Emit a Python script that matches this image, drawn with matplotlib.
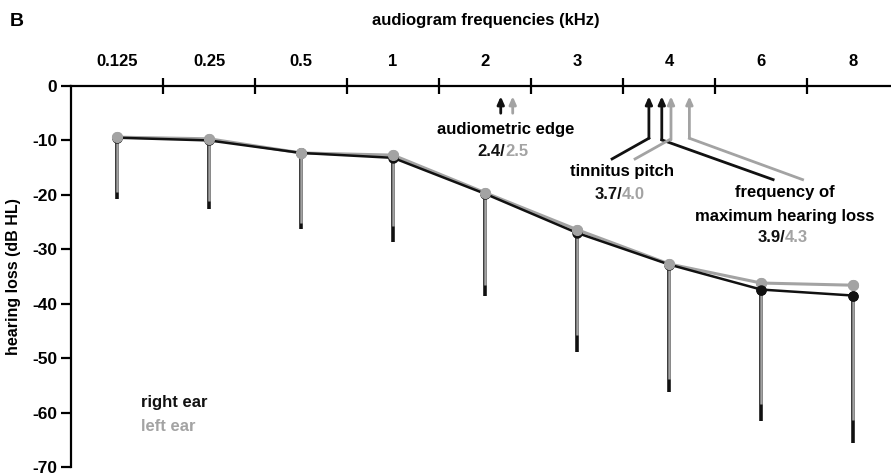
import numpy as np
import matplotlib.pyplot as plt

plt.rcParams['font.family'] = ['Liberation Sans', 'DejaVu Sans']
plt.rcParams['font.weight'] = 'bold'

freqs = ['0.125', '0.25', '0.5', '1', '2', '3', '4', '6', '8']

# mean hearing loss (dB HL)
right_ear = [-9.5, -10.0, -12.3, -13.2, -19.8, -27.0, -32.8, -37.4, -38.5]
left_ear = [-9.4, -9.7, -12.3, -12.7, -19.6, -26.4, -32.7, -36.2, -36.6]
# lower end of the error bars
right_low = [-20.7, -22.6, -26.2, -28.6, -38.5, -48.9, -56.2, -61.5, -65.6]
left_low = [-19.4, -21.2, -25.1, -25.8, -36.5, -45.7, -53.9, -58.4, -61.3]

black = '#111111'
gray = '#a3a3a3'

x = np.arange(len(freqs))
r = np.array(right_ear)
l = np.array(left_ear)
r_err = r - np.array(right_low)
l_err = l - np.array(left_low)

fig = plt.figure(figsize=(8.91, 4.75), dpi=100)
ax = fig.add_axes([71/891, 1 - 467/475, (890 - 71)/891, (467 - 86)/475])

# error bars (downward only); left ear on top of right ear
ax.errorbar(x, r, yerr=[r_err, np.zeros_like(r_err)], fmt='none', ecolor=black,
            elinewidth=2.6, capsize=0, zorder=2)
ax.errorbar(x, l, yerr=[l_err, np.zeros_like(l_err)], fmt='none', ecolor=gray,
            elinewidth=1.8, capsize=0, zorder=3)

ax.plot(x, l, color=gray, lw=2.2, marker='o', ms=7, mec=gray, mfc=gray, zorder=4)
ax.plot(x, r, color=black, lw=1.8, marker='o', ms=6.5, mec=black, mfc=black, zorder=5)
ax.plot(x, l, color=gray, lw=0, marker='o', ms=7, mec=gray, mfc=gray, zorder=6)
# black markers visible where right ear is clearly below left
sel = (l - r) > 0.8
ax.plot(x[sel], r[sel], lw=0, marker='o', ms=6.5, color=black, zorder=7)

ax.set_xlim(-0.5, 8.4)
ax.set_ylim(-70, 0)

ax.spines['bottom'].set_visible(False)
ax.spines['right'].set_visible(False)
ax.spines['top'].set_linewidth(1.6)
ax.spines['left'].set_linewidth(1.6)

ax.xaxis.tick_top()
ax.set_xticks(x)
ax.set_xticklabels(freqs, fontsize=12, fontweight='bold')
ax.tick_params(axis='x', which='major', length=0, pad=12)
ax.set_xticks(np.arange(0.5, 8, 1), minor=True)
ax.tick_params(axis='x', which='minor', direction='inout', length=12, width=1.6)

ax.set_yticks(np.arange(-70, 1, 10))
ax.set_yticklabels([str(v) for v in range(-70, 1, 10)], fontsize=12.5, fontweight='bold')
ax.tick_params(axis='y', direction='out', length=7, width=1.6, pad=3)
ax.set_ylabel('hearing loss (dB HL)', fontsize=11.5, fontweight='bold')
ax.yaxis.set_label_coords(-0.061, 0.5)

fig.text(486/891, 1 - 20/475, 'audiogram frequencies (kHz)', ha='center', va='center',
         fontsize=12, fontweight='bold')
fig.text(10/891, 1 - 22/475, 'B', ha='left', va='center', fontsize=14, fontweight='bold')

# annotation arrows
def arrow(xp, y0, y1, color):
    ax.annotate('', xy=(xp, y1), xytext=(xp, y0),
                arrowprops=dict(arrowstyle='-|>,head_length=0.45,head_width=0.2',
                                color=color, lw=2, shrinkA=0, shrinkB=0))

arrow(4.17, -5.0, -1.9, black)
arrow(4.30, -5.0, -1.9, gray)

arrow(5.78, -9.6, -1.9, black)
arrow(5.92, -9.9, -1.9, black)
arrow(6.02, -9.9, -1.9, gray)
arrow(6.22, -9.6, -1.9, gray)
ax.plot([5.78, 5.38], [-9.6, -13.4], color=black, lw=2)
ax.plot([5.92, 7.13], [-9.9, -17.2], color=black, lw=2)
ax.plot([6.00, 5.63], [-9.9, -13.4], color=gray, lw=2)
ax.plot([6.22, 7.45], [-9.6, -17.2], color=gray, lw=2)

fs = 12
ax.text(4.22, -8.0, 'audiometric edge', ha='center', va='center', fontsize=fs, fontweight='bold')
ax.text(4.22, -12.1, '2.4/', ha='right', va='center', fontsize=fs, fontweight='bold', color=black)
ax.text(4.22, -12.1, '2.5', ha='left', va='center', fontsize=fs, fontweight='bold', color=gray)

ax.text(5.49, -15.8, 'tinnitus pitch', ha='center', va='center', fontsize=fs, fontweight='bold')
ax.text(5.49, -20.0, '3.7/', ha='right', va='center', fontsize=fs, fontweight='bold', color=black)
ax.text(5.49, -20.0, '4.0', ha='left', va='center', fontsize=fs, fontweight='bold', color=gray)

ax.text(7.26, -19.6, 'frequency of', ha='center', va='center', fontsize=fs, fontweight='bold')
ax.text(7.26, -23.9, 'maximum hearing loss', ha='center', va='center', fontsize=fs, fontweight='bold')
ax.text(7.26, -27.9, '3.9/', ha='right', va='center', fontsize=fs, fontweight='bold', color=black)
ax.text(7.26, -27.9, '4.3', ha='left', va='center', fontsize=fs, fontweight='bold', color=gray)

ax.text(0.26, -58.2, 'right ear', ha='left', va='center', fontsize=fs, fontweight='bold', color=black)
ax.text(0.26, -62.6, 'left ear', ha='left', va='center', fontsize=fs, fontweight='bold', color=gray)

fig.savefig('out.png', dpi=100)
